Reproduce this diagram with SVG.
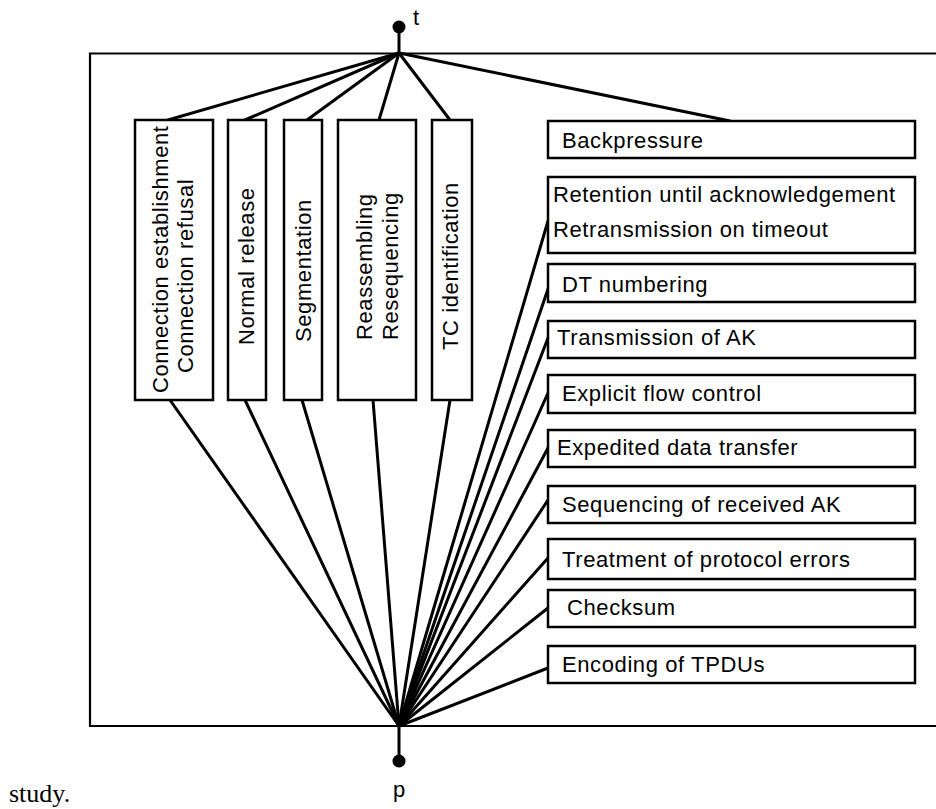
<svg xmlns="http://www.w3.org/2000/svg" width="936" height="809" viewBox="0 0 936 809">
<style>
.box{fill:#fff;stroke:#000;stroke-width:2.5}
.lbl{font-family:"Liberation Sans",Arial,sans-serif;font-size:22px;letter-spacing:0.6px;fill:#000}
.fan{stroke:#000;stroke-width:3;fill:none;stroke-linecap:round}
.frame{stroke:#000;stroke-width:2.2;fill:none}
</style>
<rect width="936" height="809" fill="#fff"/>
<path class="frame" d="M940 53.5 H90 V726 H940"/>
<g id="connectors">
<line class="fan" x1="399" y1="27" x2="399" y2="53"/>
<line class="fan" x1="399" y1="726" x2="399" y2="761"/>
<line class="fan" x1="399" y1="53" x2="168" y2="120"/>
<line class="fan" x1="399" y1="53" x2="245" y2="120"/>
<line class="fan" x1="399" y1="53" x2="307" y2="120"/>
<line class="fan" x1="399" y1="53" x2="379" y2="120"/>
<line class="fan" x1="399" y1="53" x2="450" y2="120"/>
<line class="fan" x1="399" y1="53" x2="730" y2="121"/>
<line class="fan" x1="399" y1="726" x2="170" y2="400"/>
<line class="fan" x1="399" y1="726" x2="245" y2="400"/>
<line class="fan" x1="399" y1="726" x2="302" y2="400"/>
<line class="fan" x1="399" y1="726" x2="373" y2="400"/>
<line class="fan" x1="399" y1="726" x2="450" y2="400"/>
<line class="fan" x1="399" y1="726" x2="548" y2="221"/>
<line class="fan" x1="399" y1="726" x2="548" y2="289"/>
<line class="fan" x1="399" y1="726" x2="548" y2="338"/>
<line class="fan" x1="399" y1="726" x2="548" y2="393"/>
<line class="fan" x1="399" y1="726" x2="548" y2="448"/>
<line class="fan" x1="399" y1="726" x2="548" y2="500"/>
<line class="fan" x1="399" y1="726" x2="548" y2="558"/>
<line class="fan" x1="399" y1="726" x2="548" y2="608"/>
<line class="fan" x1="399" y1="726" x2="548" y2="668"/>
</g>
<g id="t">
<circle cx="399" cy="27" r="6.5" fill="#000"/>
<text class="lbl" x="413" y="25">t</text>
</g>
<g id="p">
<circle cx="399" cy="761" r="6.5" fill="#000"/>
<text class="lbl" x="399" y="797" text-anchor="middle" style="letter-spacing:0">p</text>
</g>
<g id="conn">
<rect class="box" x="135" y="120" width="78" height="280"/>
<text class="lbl" transform="translate(168.3,393) rotate(-90)">Connection establishment</text>
<text class="lbl" transform="translate(192.7,373) rotate(-90)">Connection refusal</text>
</g>
<g id="release">
<rect class="box" x="228" y="120" width="38" height="280"/>
<text class="lbl" transform="translate(254.3,345) rotate(-90)">Normal release</text>
</g>
<g id="segmentation">
<rect class="box" x="284" y="120" width="38" height="280"/>
<text class="lbl" transform="translate(311,342) rotate(-90)">Segmentation</text>
</g>
<g id="reassembling">
<rect class="box" x="338" y="120" width="78" height="280"/>
<text class="lbl" transform="translate(371.7,340) rotate(-90)">Reassembling</text>
<text class="lbl" transform="translate(398.3,340) rotate(-90)">Resequencing</text>
</g>
<g id="tcid">
<rect class="box" x="432" y="120" width="40" height="280"/>
<text class="lbl" transform="translate(457.7,350) rotate(-90)">TC identification</text>
</g>
<g id="backpressure">
<rect class="box" x="548" y="121" width="367" height="37"/>
<text class="lbl" x="562" y="148">Backpressure</text>
</g>
<g id="retention">
<rect class="box" x="548" y="177" width="367" height="76"/>
<text class="lbl" x="553" y="201.5">Retention until acknowledgement</text>
<text class="lbl" x="553" y="236.5">Retransmission on timeout</text>
</g>
<g id="dt">
<rect class="box" x="548" y="264" width="367" height="38"/>
<text class="lbl" x="562" y="291.5">DT numbering</text>
</g>
<g id="ak">
<rect class="box" x="548" y="321" width="367" height="37"/>
<text class="lbl" x="557" y="345">Transmission of AK</text>
</g>
<g id="flow">
<rect class="box" x="548" y="375" width="367" height="38"/>
<text class="lbl" x="562" y="401">Explicit flow control</text>
</g>
<g id="expedited">
<rect class="box" x="548" y="430" width="367" height="37"/>
<text class="lbl" x="557" y="455">Expedited data transfer</text>
</g>
<g id="sequencing">
<rect class="box" x="548" y="486" width="367" height="37"/>
<text class="lbl" x="562" y="511.5">Sequencing of received AK</text>
</g>
<g id="errors">
<rect class="box" x="548" y="539" width="367" height="40"/>
<text class="lbl" x="562" y="567">Treatment of protocol errors</text>
</g>
<g id="checksum">
<rect class="box" x="548" y="590" width="367" height="37"/>
<text class="lbl" x="567" y="615">Checksum</text>
</g>
<g id="encoding">
<rect class="box" x="548" y="646" width="367" height="37"/>
<text class="lbl" x="562" y="671.5">Encoding of TPDUs</text>
</g>
<text x="9" y="802" style="font-family:'Liberation Serif','Times New Roman',serif;font-size:26px;fill:#000">study.</text>
</svg>
